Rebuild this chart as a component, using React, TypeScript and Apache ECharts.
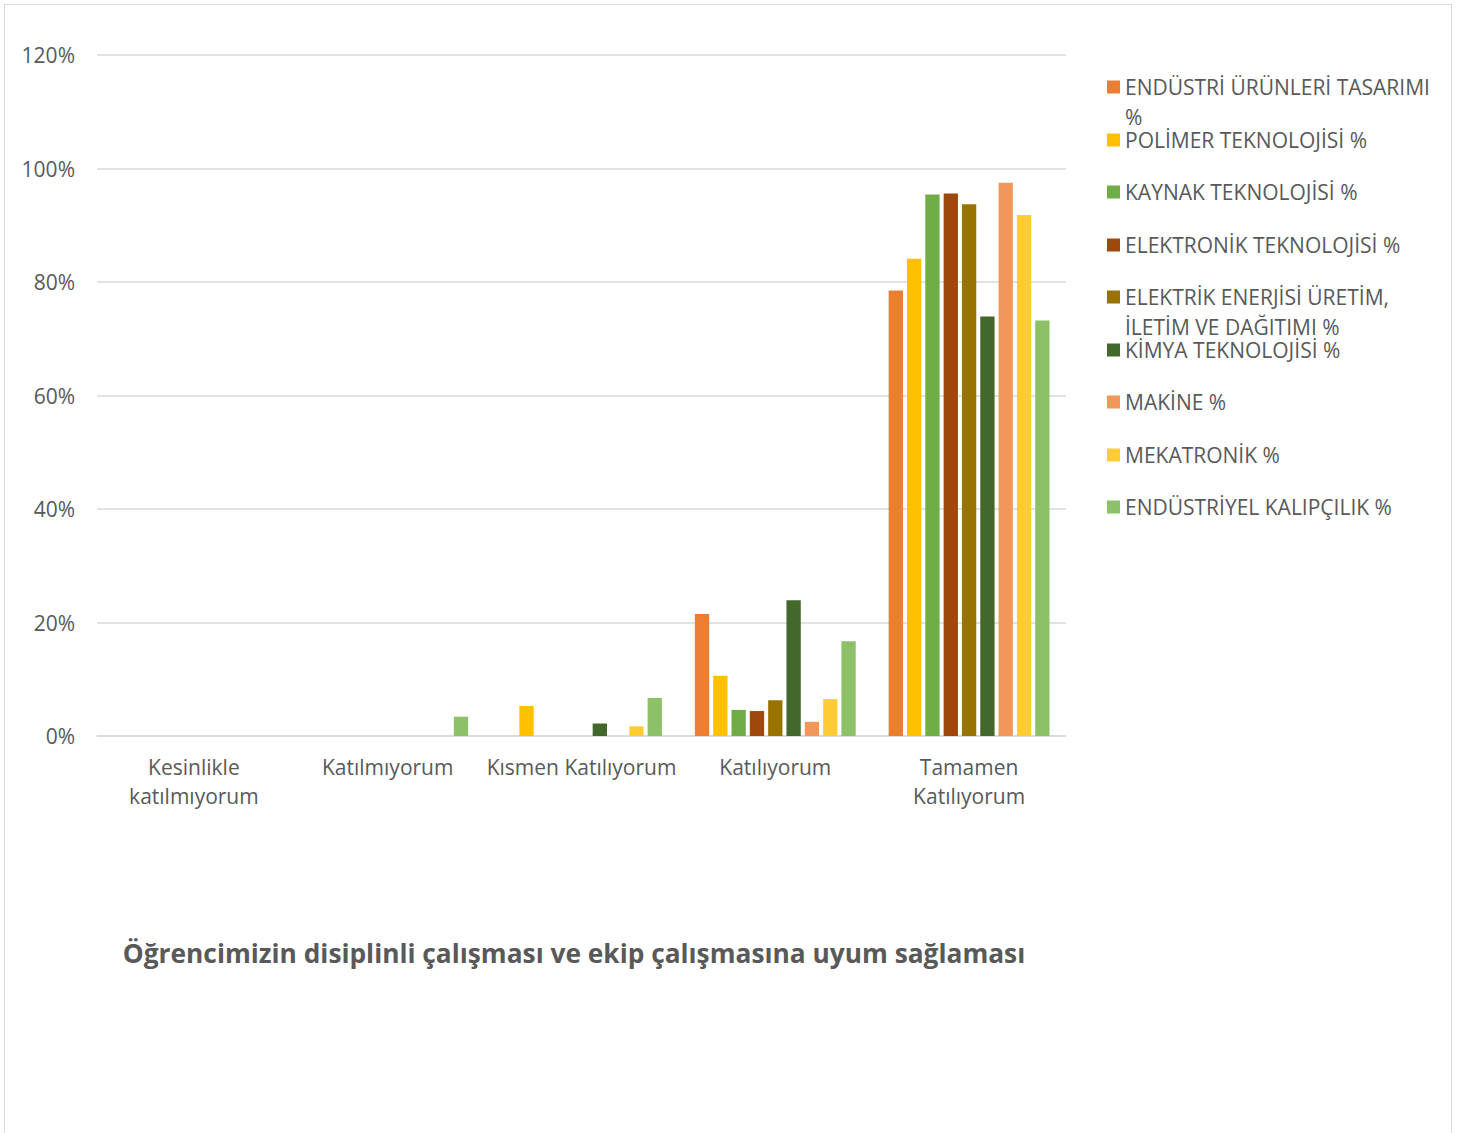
import React, { useEffect, useRef } from "react";
import * as echarts from "echarts";

const categories = [
  "Kesinlikle\nkatılmıyorum",
  "Katılmıyorum",
  "Kısmen Katılıyorum",
  "Katılıyorum",
  "Tamamen\nKatılıyorum",
];

const seriesNames = [
  "ENDÜSTRİ ÜRÜNLERİ TASARIMI %",
  "POLİMER TEKNOLOJİSİ %",
  "KAYNAK TEKNOLOJİSİ %",
  "ELEKTRONİK TEKNOLOJİSİ %",
  "ELEKTRİK ENERJİSİ ÜRETİM, İLETİM VE DAĞITIMI %",
  "KİMYA TEKNOLOJİSİ %",
  "MAKİNE %",
  "MEKATRONİK %",
  "ENDÜSTRİYEL KALIPÇILIK %",
];

const legendLabels = [
  "ENDÜSTRİ ÜRÜNLERİ TASARIMI\n%",
  "POLİMER TEKNOLOJİSİ %",
  "KAYNAK TEKNOLOJİSİ %",
  "ELEKTRONİK TEKNOLOJİSİ %",
  "ELEKTRİK ENERJİSİ ÜRETİM,\nİLETİM VE DAĞITIMI %",
  "KİMYA TEKNOLOJİSİ %",
  "MAKİNE %",
  "MEKATRONİK %",
  "ENDÜSTRİYEL KALIPÇILIK %",
];

const endustriUrunleri = [0, 0, 0, 21.5, 78.5];
const polimer = [0, 0, 5.3, 10.6, 84.1];
const kaynak = [0, 0, 0, 4.6, 95.4];
const elektronik = [0, 0, 0, 4.4, 95.6];
const elektrik = [0, 0, 0, 6.3, 93.7];
const kimya = [0, 0, 2.2, 23.9, 73.9];
const makine = [0, 0, 0, 2.5, 97.5];
const mekatronik = [0, 0, 1.7, 6.5, 91.8];
const kalipcilik = [0, 3.4, 6.7, 16.7, 73.2];

const seriesValues = [
  endustriUrunleri,
  polimer,
  kaynak,
  elektronik,
  elektrik,
  kimya,
  makine,
  mekatronik,
  kalipcilik,
];

const colors = [
  "#ED7D31",
  "#FFC000",
  "#70AD47",
  "#9E480E",
  "#997300",
  "#43682B",
  "#F1975A",
  "#FFCD33",
  "#8CC168",
];

const titleText = "Öğrencimizin disiplinli çalışması ve ekip çalışmasına uyum sağlaması";

const FONT = "'Open Sans', 'Noto Sans', sans-serif";
const TEXT_COLOR = "#595959";

export default function App() {
  const ref = useRef<HTMLDivElement>(null);

  useEffect(() => {
    if (!ref.current) return;
    const chart = echarts.init(ref.current, undefined, { renderer: "svg" });

    const legendCenters = [82, 135, 187, 240, 292, 345, 397, 450, 502];

    const legends = seriesNames.map((name, i) => {
      const label = legendLabels[i];
      const multi = label.indexOf("\n") >= 0;
      return {
        data: [name],
        orient: "vertical",
        left: 1102,
        top: legendCenters[i] - (multi ? 45 : 15),
        padding: 0,
        itemWidth: 13,
        itemHeight: 13,
        icon: "rect",
        selectedMode: false,
        formatter: () => (multi ? " \n" + label : label),
        textStyle: {
          fontFamily: FONT,
          fontSize: 21,
          color: TEXT_COLOR,
          lineHeight: 30,
        },
      };
    });

    chart.setOption({
      animation: false,
      backgroundColor: "#ffffff",
      textStyle: { fontFamily: FONT },
      grid: { left: 92, top: 50, width: 969, height: 681, containLabel: false },
      legend: legends,
      xAxis: {
        type: "category",
        data: categories,
        axisLine: { lineStyle: { color: "#d9d9d9", width: 1.5 } },
        axisTick: { show: false },
        axisLabel: {
          fontFamily: FONT,
          fontSize: 21,
          color: TEXT_COLOR,
          lineHeight: 29,
          margin: 16,
          interval: 0,
        },
      },
      yAxis: {
        type: "value",
        min: 0,
        max: 120,
        interval: 20,
        axisLine: { show: false },
        axisTick: { show: false },
        splitLine: { lineStyle: { color: "#d9d9d9", width: 1.5 } },
        axisLabel: {
          fontFamily: FONT,
          fontSize: 21,
          color: TEXT_COLOR,
          margin: 22,
          formatter: "{value}%",
        },
      },
      graphic: [
        {
          type: "text",
          x: 569,
          y: 948,
          style: {
            text: titleText,
            fontFamily: FONT,
            fontSize: 26.3,
            fontWeight: "bold",
            fill: TEXT_COLOR,
            textAlign: "center",
            textVerticalAlign: "middle",
          },
        },
      ],
      series: seriesNames.map((name, i) => ({
        name,
        type: "bar",
        data: seriesValues[i],
        barGap: "28%",
        barCategoryGap: "17%",
        itemStyle: { color: colors[i] },
      })),
    });

    return () => chart.dispose();
  }, []);

  return (
    <div
      style={{
        position: "absolute",
        left: 4,
        top: 4,
        width: 1448,
        height: 1140,
        border: "1px solid #d9d9d9",
        boxSizing: "border-box",
        background: "#fff",
      }}
    >
      <div ref={ref} style={{ width: 1446, height: 1138 }} />
    </div>
  );
}
